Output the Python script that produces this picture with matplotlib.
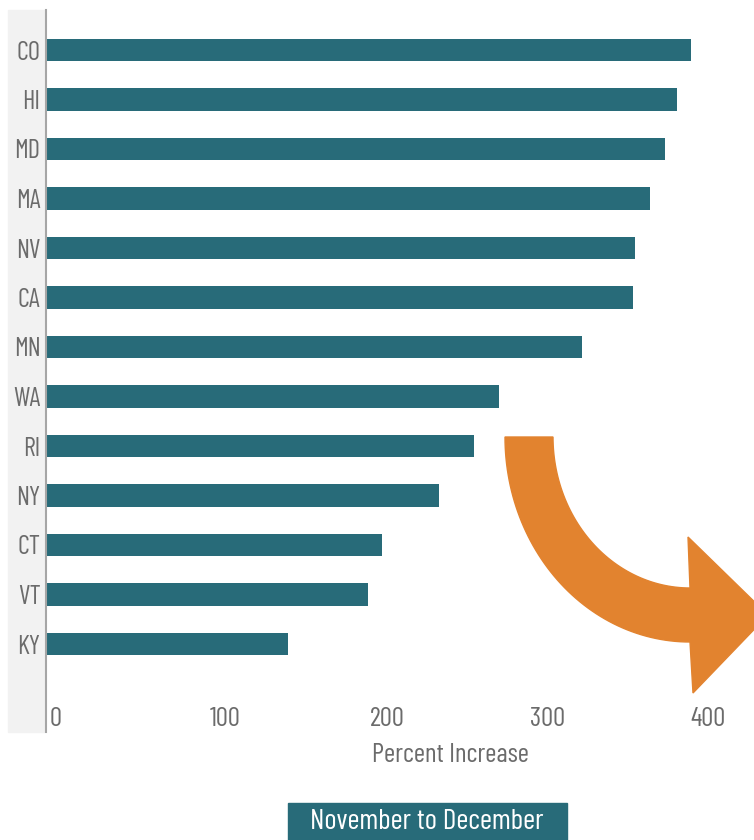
import numpy as np
import matplotlib.pyplot as plt
from matplotlib.patches import Rectangle, Polygon
from matplotlib.transforms import ScaledTranslation

##### DATA #####
states = ['CO', 'HI', 'MD', 'MA', 'NV', 'CA', 'MN', 'WA', 'RI', 'NY', 'CT', 'VT', 'KY']
pct_increase = [403, 394.5, 387, 377.5, 368.3, 367, 335, 283.3, 267.3, 245.8, 210, 201.4, 151.4]
x_ticks = [0, 100, 200, 300, 400]
x_label = 'Percent Increase'
period_label = 'November to December'

##### STYLE #####
BAR_COLOR = '#286b79'
TEXT_COLOR = '#6b6b6b'
ARROW_COLOR = '#e2832f'
FONT = ['Barlow Condensed', 'Asap Condensed', 'DejaVu Sans']
W, H = 754, 840

plt.rcParams['font.family'] = FONT
plt.rcParams['font.weight'] = 400

fig = plt.figure(figsize=(W / 100, H / 100), dpi=100)

# grey band behind the state labels
fig.patches.append(Rectangle((8 / W, 1 - 732 / H), 36 / W, 722 / H,
                             transform=fig.transFigure, color='#f2f2f2', zorder=-5))

ax = fig.add_axes([46 / W, 1 - 732 / H, 708 / W, 722 / H])
ax.patch.set_alpha(0)

y = np.arange(len(states))
ax.barh(y, pct_increase, height=0.45, color=BAR_COLOR, zorder=2)

ax.set_xlim(0, 708 / 1.6)
ax.set_ylim(12 + 88 / 49.5, -40 / 49.5)

ax.set_yticks(y)
ax.set_yticklabels(states, fontsize=19, color=TEXT_COLOR)
ax.set_xticks(x_ticks)
ax.set_xticklabels([str(t) for t in x_ticks], fontsize=19.5, color=TEXT_COLOR)
ax.tick_params(axis='y', length=0, pad=4)
ax.tick_params(axis='x', length=0, pad=-18)
offset = ScaledTranslation(4 / 100, 0, fig.dpi_scale_trans)
for lbl in ax.get_xticklabels():
    lbl.set_ha('left')
    lbl.set_transform(lbl.get_transform() + offset)

for side in ['top', 'right', 'bottom']:
    ax.spines[side].set_visible(False)
ax.spines['left'].set_color('#a6a6a6')
ax.spines['left'].set_linewidth(1.5)

fig.text(450 / W, 1 - 755 / H, x_label, ha='center', va='center',
         fontsize=19.5, color=TEXT_COLOR)

# teal label box at the bottom
fig.patches.append(Rectangle((288 / W, 0), 279 / W, 37 / H,
                             transform=fig.transFigure, color=BAR_COLOR, zorder=1))
fig.text(427 / W, 1 - 822 / H, period_label, ha='center', va='center',
         fontsize=21, color='white', zorder=4)

# curved orange arrow (decoration), drawn in pixel coords
cx, cy = 690, 437
t = np.linspace(np.pi, np.pi / 2 * 3, 60)
outer = np.column_stack([cx + 185 * np.cos(t), cy - 205 * np.sin(t)])
inner = np.column_stack([cx + 137 * np.cos(t), cy - 151 * np.sin(t)])[::-1]
head = np.array([[690, 588], [688, 537], [768, 615], [693, 693], [690, 642]])
pts = np.vstack([outer[:-1], head[::-1], inner[1:]])
pts = np.column_stack([pts[:, 0] / W, 1 - pts[:, 1] / H])
fig.patches.append(Polygon(pts, closed=True, transform=fig.transFigure,
                           color=ARROW_COLOR, zorder=3))

fig.savefig('out.png', dpi=100)
